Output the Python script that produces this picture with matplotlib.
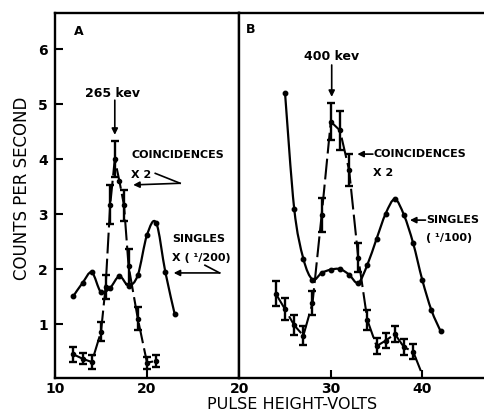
import numpy as np
import matplotlib
matplotlib.use("Agg")
import matplotlib.pyplot as plt
from matplotlib.path import Path
from matplotlib.patches import PathPatch

# panel A (265 kev) -- singles scaled by 1/200, coincidences by 2
singles_a_x = [12, 13, 14, 15, 16, 17, 18, 19, 20, 21, 22, 23]
singles_a_y = [1.51, 1.75, 1.94, 1.58, 1.66, 1.87, 1.70, 1.89, 2.62, 2.84, 1.94, 1.19]

coinc_a_x = [12, 13, 14, 15, 15.5, 16, 16.5, 17, 17.5, 18, 19, 20, 21]
coinc_a_y = [0.45, 0.37, 0.31, 0.86, 1.68, 3.17, 4.00, 3.60, 3.16, 2.05, 1.10, 0.30, 0.33]
coinc_a_err = [0.14, 0.10, 0.12, 0.17, 0.22, 0.35, 0.33, 0.0, 0.28, 0.32, 0.21, 0.11, 0.11]

# panel B (400 kev) -- singles scaled by 1/100, coincidences by 2
singles_b_x = [25, 26, 27, 28, 29, 30, 31, 32, 33, 34, 35, 36, 37, 38, 39, 40, 41, 42]
singles_b_y = [5.20, 3.10, 2.19, 1.81, 1.93, 1.99, 2.00, 1.90, 1.75, 2.08, 2.55, 3.01,
               3.27, 2.98, 2.47, 1.80, 1.25, 0.87]

coinc_b_x = [24, 25, 26, 27, 28, 29, 30, 31, 32, 33, 34, 35, 36, 37, 38, 39]
coinc_b_y = [1.55, 1.27, 0.98, 0.79, 1.38, 2.98, 4.68, 4.52, 3.80, 2.21, 1.07, 0.60,
             0.70, 0.82, 0.58, 0.50]
coinc_b_err = [0.23, 0.20, 0.18, 0.17, 0.22, 0.31, 0.33, 0.36, 0.29, 0.27, 0.18, 0.15,
               0.13, 0.14, 0.15, 0.14]
# dashed tail running down to the axis past the last point
coinc_b_tail_x = [39, 40]
coinc_b_tail_y = [0.50, 0.08]

y_ticks = [1, 2, 3, 4, 5, 6]
y_ticklabels = ["1", "2", "3", "4", "5", "6"]

LW = 1.6
DASH = (0, (10, 2.5))


def smooth_path(x, y):
    # Catmull-Rom curve through the points, written as cubic Bezier segments
    pts = np.column_stack([x, y]).astype(float)
    ext = np.vstack([pts[0], pts, pts[-1]])
    verts = [pts[0]]
    codes = [Path.MOVETO]
    for i in range(1, len(ext) - 2):
        p0, p1, p2, p3 = ext[i - 1], ext[i], ext[i + 1], ext[i + 2]
        verts += [p1 + (p2 - p0) / 6.0, p2 - (p3 - p1) / 6.0, p2]
        codes += [Path.CURVE4] * 3
    return Path(verts, codes)


def draw_singles(ax, x, y):
    ax.add_patch(PathPatch(smooth_path(x, y), fill=False, lw=LW, ec="black",
                           capstyle="round", joinstyle="round"))
    ax.plot(x, y, "o", color="black", ms=3.2)


def draw_coinc(ax, x, y, err):
    x = np.asarray(x, float)
    y = np.asarray(y, float)
    err = np.asarray(err, float)
    ax.plot(x, y, color="black", lw=1.5, linestyle=DASH)
    has_bar = err > 0
    ax.errorbar(x[has_bar], y[has_bar], yerr=err[has_bar], fmt="none",
                ecolor="black", elinewidth=1.7, capsize=3.2, capthick=1.7)
    ax.plot(x, y, "o", color="black", ms=3.0)


def arrow(ax, head, tail, lw=1.2):
    ax.annotate("", xy=head, xytext=tail,
                arrowprops=dict(arrowstyle="-|>", color="black", lw=lw,
                                mutation_scale=9, shrinkA=0, shrinkB=0))


W, H = 484, 415
fig = plt.figure(figsize=(W / 100, H / 100), dpi=100)
bottom = 1 - 378 / H
height = (378 - 13) / H
ax_a = fig.add_axes([55 / W, bottom, (239 - 55) / W, height])
ax_b = fig.add_axes([239 / W, bottom, (W - 239) / W, height])

for ax in (ax_a, ax_b):
    ax.set_ylim(0.02, 6.655)
    for s in ax.spines.values():
        s.set_linewidth(1.7)
    ax.tick_params(direction="in", length=6, width=1.5, labelsize=10)
    ax.tick_params(axis="x", pad=3)
    ax.tick_params(axis="y", pad=5)

ax_a.set_xlim(10, 30)
ax_b.set_xlim(19.97, 46.74)
ax_b.spines["right"].set_visible(False)

ax_a.set_xticks([10, 20])
ax_a.set_xticklabels(["10", "20"], fontweight="bold")
ax_a.set_yticks(y_ticks)
ax_a.set_yticklabels(y_ticklabels, fontweight="bold")
ax_b.set_xticks([20, 30, 40])
ax_b.set_xticklabels(["20", "30", "40"], fontweight="bold")
ax_b.set_yticks([])

# panel A
draw_singles(ax_a, singles_a_x, singles_a_y)
draw_coinc(ax_a, coinc_a_x, coinc_a_y, coinc_a_err)

tk = dict(color="black", fontweight="bold", fontsize=8)
ax_a.text(12.6, 6.31, "A", fontsize=9, fontweight="bold", ha="center", va="center")
ax_a.text(16.2, 5.2, "265 kev", fontsize=9, fontweight="bold", ha="center", va="center")
arrow(ax_a, (16.5, 4.44), (16.5, 5.07))

ax_a.text(18.3, 4.07, "COINCIDENCES", ha="left", va="center", **tk)
ax_a.text(18.3, 3.71, "X 2", ha="left", va="center", **tk)
ax_a.plot([20.9, 23.6], [3.74, 3.56], color="black", lw=1.2)
arrow(ax_a, (18.5, 3.53), (23.6, 3.56))

ax_a.text(22.7, 2.54, "SINGLES", ha="left", va="center", **tk)
ax_a.text(22.7, 2.21, "X ( ¹/200)", ha="left", va="center", **tk)
ax_a.plot([26.3, 27.9], [2.07, 1.93], color="black", lw=1.2)
arrow(ax_a, (22.9, 1.93), (27.9, 1.93))

# panel B
draw_singles(ax_b, singles_b_x, singles_b_y)
draw_coinc(ax_b, coinc_b_x, coinc_b_y, coinc_b_err)
ax_b.plot(coinc_b_tail_x, coinc_b_tail_y, color="black", lw=1.5, linestyle=DASH)

ax_b.text(21.25, 6.35, "B", fontsize=9, fontweight="bold", ha="center", va="center")
ax_b.text(30.1, 5.86, "400 kev", fontsize=9, fontweight="bold", ha="center", va="center")
arrow(ax_b, (30.1, 5.13), (30.1, 5.71))

ax_b.text(34.65, 4.09, "COINCIDENCES", ha="left", va="center", **tk)
ax_b.text(34.65, 3.74, "X 2", ha="left", va="center", **tk)
arrow(ax_b, (32.9, 4.09), (34.6, 4.09))

ax_b.text(40.4, 2.89, "SINGLES", ha="left", va="center", **tk)
ax_b.text(40.45, 2.57, "( ¹/100)", ha="left", va="center", **tk)
arrow(ax_b, (38.65, 2.89), (40.35, 2.89))

fig.text(22 / W, 1 - 188 / H, "COUNTS PER SECOND", rotation=90, ha="center",
         va="center", fontsize=12)
fig.text(292 / W, 1 - 404 / H, "PULSE HEIGHT-VOLTS", ha="center", va="center",
         fontsize=11.5)

fig.savefig("out.png", dpi=100)
